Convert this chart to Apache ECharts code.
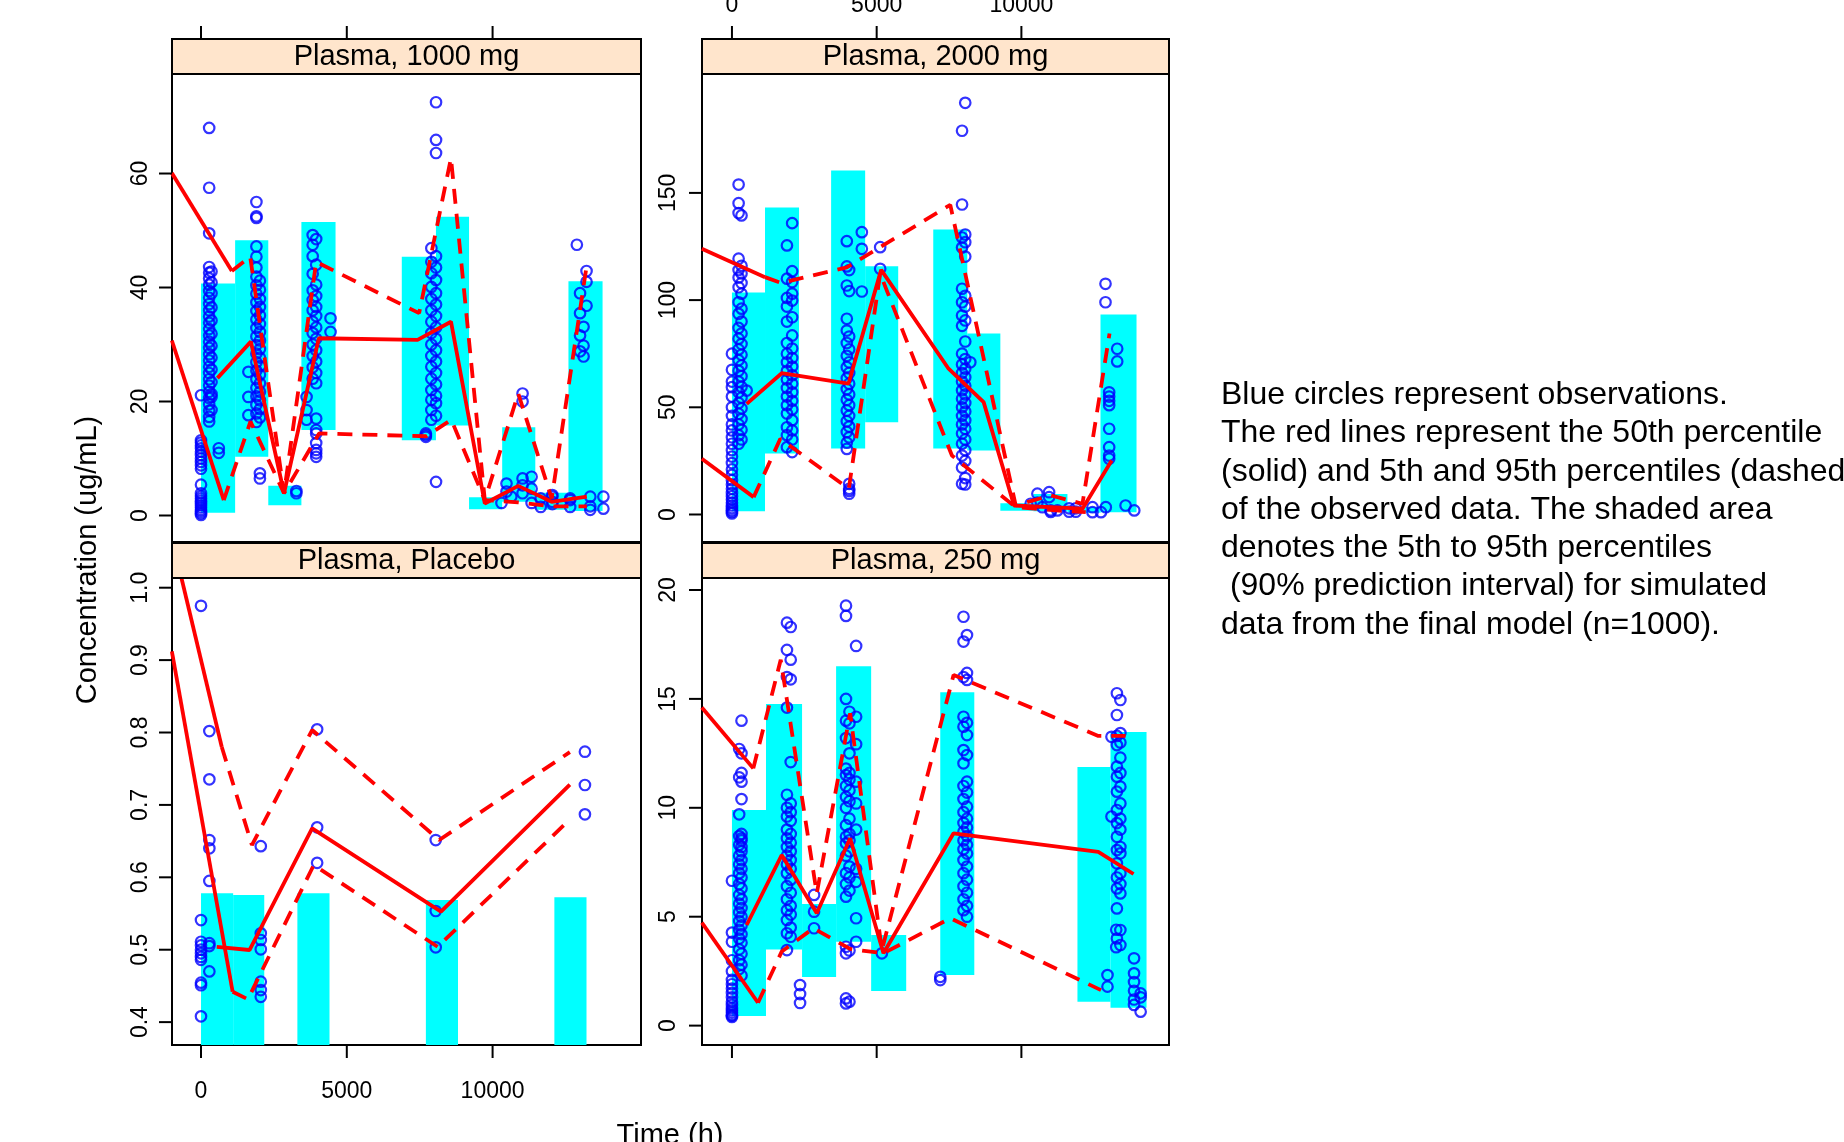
<!DOCTYPE html>
<html><head><meta charset="utf-8">
<script src="https://cdn.jsdelivr.net/npm/echarts@6/dist/echarts.min.js"></script>
<style>html,body{margin:0;padding:0;background:#fff}#c{width:1844px;height:1142px}</style>
</head><body><div id="c"></div>
<script>
// ---------------- data ----------------
const panelTitles = ['Plasma, 1000 mg', 'Plasma, 2000 mg', 'Plasma, Placebo', 'Plasma, 250 mg'];
const xTicks = [0, 5000, 10000];
const yTicks1000 = [0, 20, 40, 60];
const yTicks2000 = [0, 50, 100, 150];
const yTicksPlacebo = [0.4, 0.5, 0.6, 0.7, 0.8, 0.9, 1.0];
const yTicks250 = [0, 5, 10, 15, 20];

// simulated 90% PI boxes: [timeStart, timeEnd, p5, p95]
const bars1000 = [[0,1170,0.5,40.7],[1170,2307,10.3,48.3],[2307,3443,1.8,5.2],[3443,4614,15.0,51.5],[6886,8057,13.2,45.4],[8057,9193,15.8,52.4],[9193,10329,1.1,3.2],[10329,11465,2.4,15.5],[11465,12602,1.0,4.0],[12602,13772,0.8,41.1]];
const bars2000 = [[0,1142,1.5,103.5],[1142,2318,28.4,143.2],[3426,4602,30.8,160.4],[4602,5744,43.0,115.8],[6955,8131,30.8,132.9],[8131,9273,29.9,84.4],[9273,10414,1.8,5.2],[10414,11591,1.5,9.6],[11591,12733,0.8,3.5],[12733,13978,1.1,93.3]];
const barsPlacebo = [[0,1102,0.3,0.578],[1102,2169,0.3,0.5755],[3305,4407,0.3,0.578],[7712,8814,0.3,0.5686],[12119,13221,0.3,0.5724]];
const bars250 = [[0,1176,0.44,9.9],[1176,2422,3.5,14.77],[2422,3598,2.23,5.58],[3598,4809,3.85,16.5],[4809,6020,1.59,4.16],[7197,8373,2.32,15.3],[11937,13079,1.1,11.87],[13079,14324,0.82,13.48]];

// observations: [time, [concentrations...]]
const obs1000 = [
 [0,[21.1,13.2,12.8,12.3,11.8,11.2,10.6,10.0,9.4,8.8,8.2,5.4,3.9,3.4,3.0,2.6,2.2,1.8,1.4,1.0,0.7,0.4,0.1]],
 [280,[68.0,57.5,49.5,43.6,42.6,41.6,40.5,39.4,38.2,37.1,36.0,34.9,33.8,32.7,31.6,30.5,29.4,28.3,27.2,26.1,25.0,23.9,22.8,21.7,20.6,19.5,18.4,17.3,16.5]],
 [360,[42.8,40.9,39.0,36.5,34.2,31.9,29.8,27.7,25.6,23.4,21.3,20.8,18.5]],
 [610,[11.8,11.0]],
 [1625,[25.2,20.8,17.6]],
 [1900,[55.0,52.5,52.2,47.2,45.4,43.5,41.9,40.4,38.9,37.4,35.9,34.4,32.9,31.4,29.9,28.4,26.9,25.4,23.9,22.4,20.9,19.4,17.9,16.4]],
 [2020,[41.2,39.6,38.0,36.6,35.1,33.6,32.2,30.7,29.2,27.7,26.2,24.7,23.2,21.7,20.2,18.7,17.2,7.4,6.5]],
 [3270,[4.3,3.9]],
 [3620,[20.8,18.5,16.8]],
 [3830,[49.2,47.5,45.5,42.4,39.5,37.8,36.0,34.0,32.0,30.0,28.0,26.0,24.0]],
 [3950,[48.5,44.0,40.5,38.5,36.6,35.0,33.0,31.0,29.0,27.0,25.0,23.2,17.0,15.0,14.4,12.7,11.5,10.9,10.3]],
 [4442,[34.6,32.2]],
 [7712,[14.4,13.8,14.1]],
 [7900,[46.9,44.5,42.5,40.1,38.0,36.0,34.0,32.0,30.0,28.0,26.1,24.0,22.0,20.3,18.5,16.8]],
 [8060,[72.5,65.9,63.6,45.5,43.5,41.3,39.0,37.0,35.0,33.0,31.0,29.0,27.0,25.0,23.0,21.0,19.7,17.5,5.9]],
 [10305,[2.2]],[10477,[5.6,4.2]],[10640,[3.3]],[11028,[21.4,20.0,6.5,5.3,3.9]],[11338,[6.8,4.7,2.2]],
 [11650,[3.0,1.5]],[12050,[3.6,3.3,2.4,2.0]],
 [12660,[2.7,1.5,3.0]],[12890,[47.5]],[13000,[39.0,35.5,31.6,28.8]],[13120,[33.1,29.8,27.9]],[13222,[42.9,41.0,36.8]],
 [13350,[3.3,1.6,1.0]],[13800,[3.3,1.2]]
];
const obs2000 = [
 [0,[75.0,67.5,62.0,59.4,55.0,50.0,46.0,42.0,39.2,36.0,33.0,30.0,27.0,24.0,21.0,18.5,16.0,14.0,12.0,10.0,8.5,7.0,5.5,4.2,3.0,2.0,1.2,0.5]],
 [230,[153.9,145.2,140.6,119.3,114.0,110.5,106.0,99.0,93.6,87.0,82.0,77.0,72.0,67.0,62.0,57.0,52.0,47.0,42.0,37.0,33.0]],
 [330,[139.5,116.0,112.4,108.0,103.0,96.0,90.0,84.4,79.5,74.5,69.5,64.5,59.5,54.5,49.5,44.5,39.5,35.0]],
 [508,[57.8]],
 [1900,[125.5,110.0,101.0,97.0,90.0,80.0,75.0,71.0,67.0,63.0,59.0,55.0,51.0,47.1,40.7,37.0,31.4]],
 [2080,[135.9,113.5,108.4,103.0,99.8,92.0,83.5,77.4,73.0,69.0,65.0,61.0,57.0,53.0,49.0,44.0,39.2,35.0,29.1]],
 [3968,[127.5,115.7,106.8,91.3,85.8,80.0,74.0,68.7,63.5,58.5,53.5,48.5,43.5,38.5,33.5,30.6]],
 [4050,[114.0,104.2,83.0,77.0,71.0,66.0,61.0,56.0,51.0,46.0,41.0,36.0,14.3,12.0,11.0,9.7]],
 [4487,[131.7,123.9,104.0]],
 [5121,[124.7,114.6]],
 [7950,[179.0,144.6,129.2,124.5,105.3,99.0,92.8,88.0,75.0,70.0,66.0,62.0,58.0,54.0,50.0,46.0,42.0,37.8,33.0,27.5,21.9,14.3]],
 [8060,[192.0,130.6,127.0,120.3,102.0,97.0,90.5,80.7,72.5,68.0,64.0,60.0,56.0,52.0,48.0,44.0,40.0,35.0,30.0,25.0,17.0,14.0]],
 [8235,[71.0]],
 [10321,[5.0]],[10553,[9.7,5.5]],[10726,[3.4]],[10958,[10.4,8.1]],[11013,[1.9,1.2]],[11245,[1.9]],
 [11650,[2.9,1.3]],[11880,[2.9,1.3]],
 [12456,[3.4,1.1]],[12750,[1.1]],[12917,[3.4]],
 [12906,[107.6,99.0]],[13033,[57.0,55.0,53.0,51.0,40.0,31.4,27.5,26.0]],[13310,[77.3,71.4]],
 [13600,[4.2]],[13900,[1.9]]
];
const obsPlacebo = [
 [0,[0.975,0.541,0.511,0.506,0.5,0.495,0.49,0.486,0.4545,0.451,0.408]],
 [286,[0.802,0.7353,0.6515,0.64,0.595,0.509,0.505,0.47]],
 [2050,[0.643,0.5226,0.5134,0.5006,0.4558,0.4443,0.435]],
 [3983,[0.8044,0.669,0.62]],
 [8050,[0.6515,0.5535,0.5033]],
 [13167,[0.7735,0.7275,0.687]]
];
const obs250 = [
 [0,[6.65,4.27,3.85,3.0,2.5,2.1,1.9,1.7,1.5,1.3,1.1,0.95,0.8,0.7,0.6,0.5,0.45,0.4]],
 [250,[12.7,11.4,9.7,8.7,8.3,7.8,7.4,7.0,6.5,6.0,5.6,5.2,4.8,4.4,4.0,3.5,3.0,2.6]],
 [330,[14.0,12.5,11.6,11.2,10.4,8.8,8.6,8.5,8.2,8.0,7.6,7.2,6.8,6.3,5.8,5.4,5.0,4.6,4.2,3.8,3.3,2.8,2.3]],
 [1900,[18.5,17.25,16.0,14.6,10.6,10.0,9.6,9.0,8.6,8.2,7.8,7.4,7.0,6.4,5.8,5.3,4.85,4.24,3.47]],
 [2030,[18.3,16.8,15.9,12.1,10.2,9.8,9.4,8.8,8.4,8.0,7.6,7.2,6.7,6.1,5.5,5.1,4.5,4.08]],
 [2353,[1.86,1.45,1.04]],
 [2837,[6.0,5.23,4.47]],
 [3940,[19.28,18.81,15.0,14.0,13.2,11.8,11.5,11.0,10.5,10.0,9.2,8.67,8.37,7.8,7.0,6.5,5.92,3.62,3.32,1.25,1.02]],
 [4060,[14.41,13.88,12.5,11.6,11.3,10.8,10.3,9.5,8.8,8.5,8.0,7.3,6.8,6.2,3.45,1.1]],
 [4290,[17.43,14.18,12.92,11.2,10.2,9.0,7.2,6.6,4.93,3.85]],
 [5180,[3.32]],
 [7197,[2.24,2.09]],
 [8000,[18.77,17.63,16.0,14.18,13.72,12.65,12.04,11.0,10.4,9.8,9.3,8.9,8.5,8.1,7.6,7.0,6.4,5.8,5.3]],
 [8120,[17.93,16.19,15.87,13.9,13.34,12.42,11.2,10.7,10.05,9.5,9.1,8.7,8.3,7.9,7.3,6.7,6.1,5.5,5.0]],
 [12975,[2.32,1.79]],
 [13113,[13.26,9.6]],
 [13276,[4.4,3.6]],
 [13300,[15.26,14.26,13.3,12.88,11.89,11.43,10.74,9.9,9.3,8.67,8.06,7.45,6.8,6.3,5.38,4.0]],
 [13420,[14.95,13.43,13.0,12.3,11.6,10.97,10.2,9.5,9.0,8.2,7.91,7.0,6.5,6.07,4.39,3.7]],
 [13892,[3.09,2.4,2.0,1.6,1.2,0.95]],
 [14120,[1.48,1.3,0.64]]
];

// observed percentile lines: [time, value]
const preHi1000 = [[-1000,60.1],[1057,42.9]];
const p95_1000 = [[1057,42.9],[1687,45.4],[2847,3.9],[3950,44.5],[7480,35.5],[8573,62.7],[9733,2.7],[10880,21.4],[12027,3.0],[13232,44.0]];
const preLo1000 = [[-1000,30.7],[781,2.7]];
const p5_1000 = [[781,2.7],[1697,16.5],[2847,3.9],[4050,14.4],[7723,13.9],[8585,16.8],[9733,2.7],[10880,2.3],[12027,1.6],[13232,1.6]];
const p50_1000 = [[562,24.1],[1711,30.5],[2847,3.9],[4040,31.1],[7427,30.8],[8573,34.0],[9733,2.1],[10880,5.2],[12027,2.4],[13232,3.3]];

const preHi2000 = [[-1040,124.0],[1142,110.7]];
const p95_2000 = [[1142,110.7],[1700,108.0],[3968,115.3],[5121,124.7],[7543,144.4],[9803,4.2],[11013,8.9],[12110,5.0],[13045,84.4]];
const preLo2000 = [[-1040,26.0],[750,8.1]];
const p5_2000 = [[750,8.1],[1671,35.3],[4038,12.0],[5121,112.3],[7600,27.5],[9803,3.4],[11186,1.9],[12224,1.1]];
const p50_2000 = [[508,51.6],[1719,65.9],[4025,61.0],[5155,114.1],[7484,68.0],[8695,52.4],[9746,4.2],[12110,2.7],[13120,25.2]];

const preHiPlacebo = [[-1000,1.069],[712,0.78]];
const p95Placebo = [[712,0.78],[1746,0.6446],[3811,0.8034],[8171,0.6515],[12650,0.773]];
const preLoPlacebo = [[-1000,0.912],[1085,0.442]];
const p5Placebo = [[1085,0.442],[1608,0.4315],[3867,0.617],[8115,0.504],[12650,0.68]];
const p50Placebo = [[540,0.504],[1663,0.4996],[3811,0.6677],[8229,0.5525],[12650,0.728]];

const preHi250 = [[-1040,14.6],[737,11.81]];
const p95_250 = [[737,11.81],[1685,16.8],[2930,6.07],[4083,14.34],[5180,3.47],[7657,16.1],[12657,13.3],[13600,13.3]];
const preLo250 = [[-1040,4.73],[900,1.05]];
const p5_250 = [[900,1.05],[1719,3.4],[2813,4.47],[4083,3.52],[5235,3.32],[7543,4.93],[12750,1.63]];
const p50_250 = [[508,4.62],[1719,7.83],[2930,5.16],[4083,8.6],[5235,3.32],[7657,8.83],[12657,7.98],[13875,6.96]];

const noteLines = [
 'Blue circles represent observations.',
 'The red lines represent the 50th percentile',
 '(solid) and 5th and 95th percentiles (dashed)',
 'of the observed data. The shaded area',
 'denotes the 5th to 95th percentiles',
 ' (90% prediction interval) for simulated',
 'data from the final model (n=1000).'
];

// ---------------- chart ----------------
const FONT = '"Liberation Sans", Arial, Helvetica, sans-serif';
const grids = [
 {left:172, top:74, width:469, height:468},
 {left:702, top:74, width:467, height:468},
 {left:172, top:578, width:469, height:467},
 {left:702, top:578, width:467, height:467}
];
const STRIP_H = 35, TICK_LEN = 13;
const xRanges = [[-995,15090],[-1035,15100],[-995,15090],[-1035,15100]];
const yRanges = [[-4.65,77.46],[-12.83,205.46],[0.3684,1.0134],[-0.89,20.55]];
const yTicks = [yTicks1000, yTicks2000, yTicksPlacebo, yTicks250];
const bars = [bars1000, bars2000, barsPlacebo, bars250];
const obs = [obs1000, obs2000, obsPlacebo, obs250];
const lines = [
 [preHi1000, p95_1000, preLo1000, p5_1000, p50_1000],
 [preHi2000, p95_2000, preLo2000, p5_2000, p50_2000],
 [preHiPlacebo, p95Placebo, preLoPlacebo, p5Placebo, p50Placebo],
 [preHi250, p95_250, preLo250, p5_250, p50_250]
];
const lineDash = ['solid', [15,10], 'solid', [15,10], 'solid'];

const axisLineStyle = {show:false, onZero:false};
const xAxes = grids.map((g, i) => {
  const top = i < 2;
  const showLab = (i === 1 || i === 2);
  return {
    type:'value', gridIndex:i, min:xRanges[i][0], max:xRanges[i][1],
    position: top ? 'top' : 'bottom', offset: top ? STRIP_H : 0,
    axisLine:axisLineStyle, splitLine:{show:false}, axisTick:{show:false},
    axisLabel:{show:showLab, customValues:xTicks, fontSize:23, color:'#000', fontFamily:FONT,
      margin: top ? 22 : 35, formatter: v => String(Math.round(v))}
  };
});
const yAxes = grids.map((g, i) => ({
  type:'value', gridIndex:i, min:yRanges[i][0], max:yRanges[i][1], position:'left',
  axisLine:axisLineStyle, splitLine:{show:false}, axisTick:{show:false},
  axisLabel:{show:true, customValues:yTicks[i], rotate:90, fontSize:23, color:'#000', fontFamily:FONT,
    margin: (i % 2 === 0) ? 20 : 22,
    formatter: v => (i === 2 ? Number(v).toFixed(1) : String(Math.round(v)))}
}));

const series = [];
grids.forEach((g, i) => {
  series.push({
    type:'custom', xAxisIndex:i, yAxisIndex:i, z:1, silent:true,
    data: bars[i],
    encode:{x:[0,1], y:[2,3]},
    renderItem: (params, api) => {
      const p0 = api.coord([api.value(0), api.value(3)]);
      const p1 = api.coord([api.value(1), api.value(2)]);
      const cs = params.coordSys;
      const r = echarts.graphic.clipRectByRect(
        {x:p0[0], y:p0[1], width:p1[0]-p0[0], height:p1[1]-p0[1]},
        {x:cs.x, y:cs.y, width:cs.width, height:cs.height});
      return r ? {type:'rect', shape:r, style:{fill:'#00ffff'}} : null;
    }
  });
  const pts = [];
  obs[i].forEach(([t, ys]) => ys.forEach(y => pts.push([t, y])));
  series.push({
    type:'scatter', xAxisIndex:i, yAxisIndex:i, z:2, silent:true,
    data: pts, symbol:'circle', symbolSize:10.5,
    itemStyle:{color:'rgba(0,0,0,0)', borderColor:'#0000ff', borderWidth:2.2}
  });
  lines[i].forEach((d, k) => {
    series.push({
      type:'line', xAxisIndex:i, yAxisIndex:i, z:3, silent:true,
      data:d, symbol:'none', showSymbol:false, clip:true,
      lineStyle:{color:'#ff0000', width:3.8, type:lineDash[k], cap:'butt'}
    });
  });
});

const graphics = [];
grids.forEach((g, i) => {
  graphics.push({type:'rect', z:100, shape:{x:g.left, y:g.top-STRIP_H, width:g.width, height:STRIP_H},
    style:{fill:'#ffe5cc', stroke:'#000', lineWidth:2}});
  graphics.push({type:'text', z:101, x:g.left+g.width/2, y:g.top-STRIP_H/2,
    style:{text:panelTitles[i], font:'29px ' + FONT, fill:'#000',
      align:'center', verticalAlign:'middle', textAlign:'center', textVerticalAlign:'middle'}});
});
graphics.push({type:'text', z:101, x:88, y:560, rotation:Math.PI/2,
  style:{text:'Concentration (ug/mL)', font:'29px ' + FONT, fill:'#000',
    align:'center', verticalAlign:'middle', textAlign:'center', textVerticalAlign:'middle'}});
graphics.push({type:'text', z:101, x:670, y:1121,
  style:{text:'Time (h)', font:'29px ' + FONT, fill:'#000',
    align:'center', verticalAlign:'top', textAlign:'center', textVerticalAlign:'top'}});
graphics.push({type:'text', z:101, x:1221, y:376,
  style:{text:noteLines.join('\n'), font:'32px ' + FONT, fill:'#000', lineHeight:38.3,
    align:'left', verticalAlign:'top', textAlign:'left', textVerticalAlign:'top'}});

const chart = echarts.init(document.getElementById('c'), null, {renderer:'canvas', width:1844, height:1142});
chart.setOption({
  animation:false,
  backgroundColor:'#fff',
  textStyle:{fontFamily:FONT},
  grid: grids.map(g => Object.assign({show:true, borderColor:'#000', borderWidth:2, backgroundColor:'rgba(0,0,0,0)',
    containLabel:false, outerBoundsMode:'none'}, g)),
  xAxis: xAxes,
  yAxis: yAxes,
  series: series,
  graphic: {elements: graphics}
});

// axis tick marks, placed through the chart's own scales
const tickEls = [];
const tickStyle = {stroke:'#000', lineWidth:2};
grids.forEach((g, i) => {
  xTicks.forEach(t => {
    const px = chart.convertToPixel({xAxisIndex:i}, t);
    const y0 = (i < 2) ? g.top - STRIP_H : g.top + g.height;
    const y1 = (i < 2) ? y0 - TICK_LEN : y0 + TICK_LEN;
    tickEls.push({type:'line', z:102, shape:{x1:px, y1:y0, x2:px, y2:y1}, style:tickStyle});
  });
  yTicks[i].forEach(v => {
    const py = chart.convertToPixel({yAxisIndex:i}, v);
    tickEls.push({type:'line', z:102, shape:{x1:g.left, y1:py, x2:g.left - TICK_LEN, y2:py}, style:tickStyle});
  });
});
chart.setOption({graphic:{elements: graphics.concat(tickEls)}});
</script></body></html>
